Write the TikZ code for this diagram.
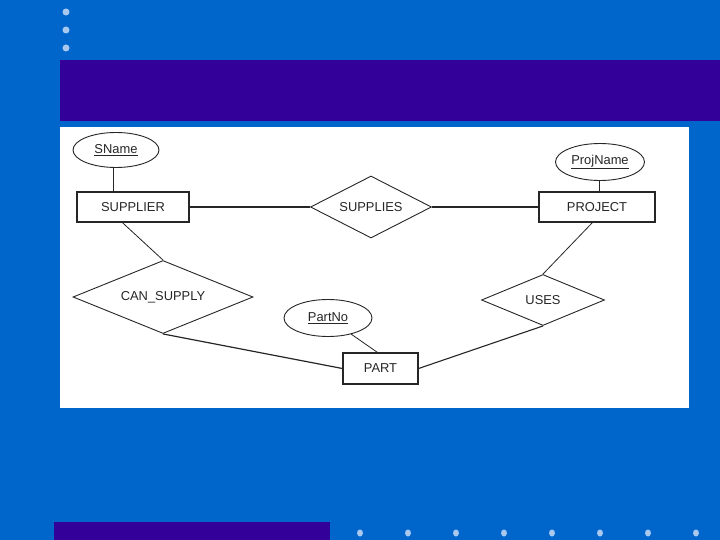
\documentclass[tikz,border=0pt]{standalone}
\usepackage{fontspec}
\setmainfont{Liberation Sans}
\usetikzlibrary{shapes.geometric}
\definecolor{bgblue}{HTML}{0066CC}
\definecolor{bandpurple}{HTML}{330099}
\definecolor{dotblue}{HTML}{A8C8F0}
\definecolor{ink}{HTML}{262626}
\tikzset{
  erfont/.style={font=\fontsize{12.9}{15}\selectfont, text=ink},
  entity/.style={draw=ink, line width=1.2pt, rectangle, inner sep=0pt, erfont},
  attr/.style={draw=ink, line width=0.9pt, ellipse, inner sep=0pt, erfont},
  rel/.style={draw=ink, line width=0.9pt, diamond, inner sep=0pt, aspect=2, erfont},
  link/.style={draw=ink, line width=0.8pt},
  thicklink/.style={draw=ink, line width=1.6pt},
  bdot/.style={fill=dotblue, draw=none}
}
\begin{document}
\begin{tikzpicture}[x=1pt, y=-1pt]
\useasboundingbox (0,0) rectangle (720,540);
\fill[bgblue] (0,0) rectangle (720,540);
% decorations
\foreach \yy in {12,30,48} \fill[bdot] (66,\yy) circle (3.5pt);
\fill[bandpurple] (60,60) rectangle (720,121);
\fill[bandpurple] (54,522) rectangle (330,540);
\foreach \xx in {360,408,456,504,552,600,648,696} \fill[bdot] (\xx,533) ellipse (3pt and 3.5pt);
% white panel
\fill[white] (60,127) rectangle (689,408);
% nodes
\node[attr, minimum width=86pt, minimum height=35pt] (SName) at (116,150) {\underline{SName}};
\node[entity, minimum width=112pt, minimum height=30pt] (SUPPLIER) at (133,207) {SUPPLIER};
\node[rel, minimum width=121pt, minimum height=62pt] (SUPPLIES) at (371,207) {SUPPLIES};
\node[entity, minimum width=116pt, minimum height=30pt] (PROJECT) at (597,207) {PROJECT};
\node[attr, minimum width=89pt, minimum height=37pt] (ProjName) at (600,162) {\underline{ProjName}};
\node[rel, minimum width=180pt, minimum height=73pt] (CANSUPPLY) at (163,297) {CAN\_SUPPLY};
\node[rel, minimum width=123pt, minimum height=51pt] (USES) at (543,300) {USES};
\node[attr, minimum width=88pt, minimum height=37pt] (PartNo) at (328,318) {\underline{PartNo}};
\node[entity, minimum width=75pt, minimum height=31pt] (PART) at (380.5,368.5) {PART};
% connectors
\draw[link] ([xshift=-3pt]SName.south) -- ([xshift=-3pt]SName.south |- SUPPLIER.north);
\draw[thicklink] (SUPPLIER.east) -- (SUPPLIES.west);
\draw[thicklink] (SUPPLIES.east) -- (PROJECT.west);
\draw[link] ([xshift=-1pt]ProjName.south) -- ([xshift=-1pt]ProjName.south |- PROJECT.north);
\draw[link] ([xshift=46pt]SUPPLIER.south west) -- (CANSUPPLY.north);
\draw[link] ([xshift=54pt]PROJECT.south west) -- (USES.north);
\draw[thicklink, line width=1.2pt] (CANSUPPLY.south) -- (PART.west);
\draw[link, line width=1.1pt] (PART.east) -- (USES.south);
\draw[link] (PartNo) -- ([xshift=35pt]PART.north west);
\end{tikzpicture}
\end{document}
